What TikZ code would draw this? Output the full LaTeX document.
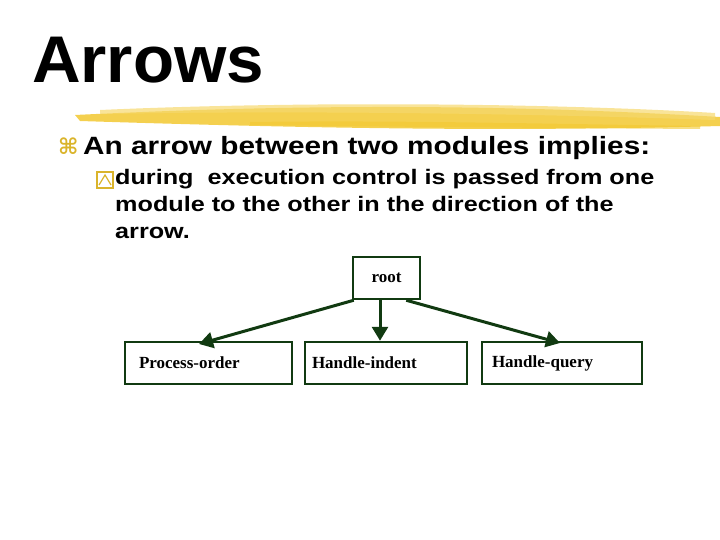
\documentclass[tikz,border=0pt]{standalone}
\usepackage{fontspec}
\usepackage{graphicx}
\setmainfont{Liberation Serif}
\setsansfont{Liberation Sans}
\newfontfamily\dejavu{DejaVu Sans}
\usetikzlibrary{arrows.meta}
\definecolor{dg}{HTML}{113A11}
\definecolor{brush}{HTML}{F2C830}
\begin{document}
\begin{tikzpicture}[x=1pt,y=-1pt,
  box/.style={draw=dg,line width=2.5pt,minimum height=42pt,font=\bfseries\fontsize{17}{17}\selectfont,inner sep=0pt,text width=#1,align=left},
  conn/.style={draw=dg,line width=3pt,-{Triangle[length=14pt,width=16pt]}}]
\useasboundingbox (0,0) rectangle (720,540);
\node[anchor=base west,font=\sffamily\bfseries\fontsize{66}{66}\selectfont,inner sep=0pt] (title) at (32,83) {\scalebox{1.02}[1]{Arrows}};
\fill[brush,opacity=0.85] (75,115) .. controls (300,104) and (500,104) .. (720,117) -- (720,126) .. controls (500,132) and (300,128) .. (80,121) -- cycle;
\fill[brush!70!white,opacity=0.7] (100,110) .. controls (300,101) and (550,103) .. (715,113) -- (715,120) .. controls (550,114) and (300,110) .. (100,114) -- cycle;
\fill[brush,opacity=0.6] (250,122) .. controls (400,120) and (550,124) .. (700,126) -- (700,129) .. controls (550,128) and (400,127) .. (250,125) -- cycle;
\node[anchor=base west,text=brush!90!black,font=\dejavu\bfseries\fontsize{22}{22}\selectfont,inner sep=0pt] (b1) at (58,155) {⌘};
\node[anchor=base west,font=\sffamily\bfseries\fontsize{25}{25}\selectfont,inner sep=0pt] (l1) at (83,155) {\scalebox{1.19}[1]{An arrow between two modules implies:}};
\draw[brush!90!black,line width=1.2pt] (97,172) rectangle (113,188);
\draw[brush!90!black,line width=1.2pt] (99,185) -- (105,175) -- (111,185);
\node[anchor=north west,align=left,font=\sffamily\bfseries\fontsize{21}{27}\selectfont,inner sep=0pt] (l2) at (115,169) {\scalebox{1.2}[1]{during\ \ execution control is passed from one}\\\scalebox{1.2}[1]{module to the other in the direction of the}\\\scalebox{1.2}[1]{arrow.}};
\node[box=67pt,align=center] (root) at (386.5,278) {root};
\node[box=167pt] (po) at (208.5,363) {\hspace*{14pt}Process-order};
\node[box=162pt] (hi) at (386,363) {\hspace*{7pt}Handle-indent};
\node[box=160pt] (hq) at (562,363) {\hspace*{10pt}Handle-query};
\draw[conn] (root.south west) ++(2,0) -- (199,344);
\draw[conn] (root.south -| hi.north) ++(-6,0) -- ([xshift=-6pt]hi.north);
\draw[conn] (root.south east) ++(-15,0) -- (560,343);
\end{tikzpicture}
\end{document}
